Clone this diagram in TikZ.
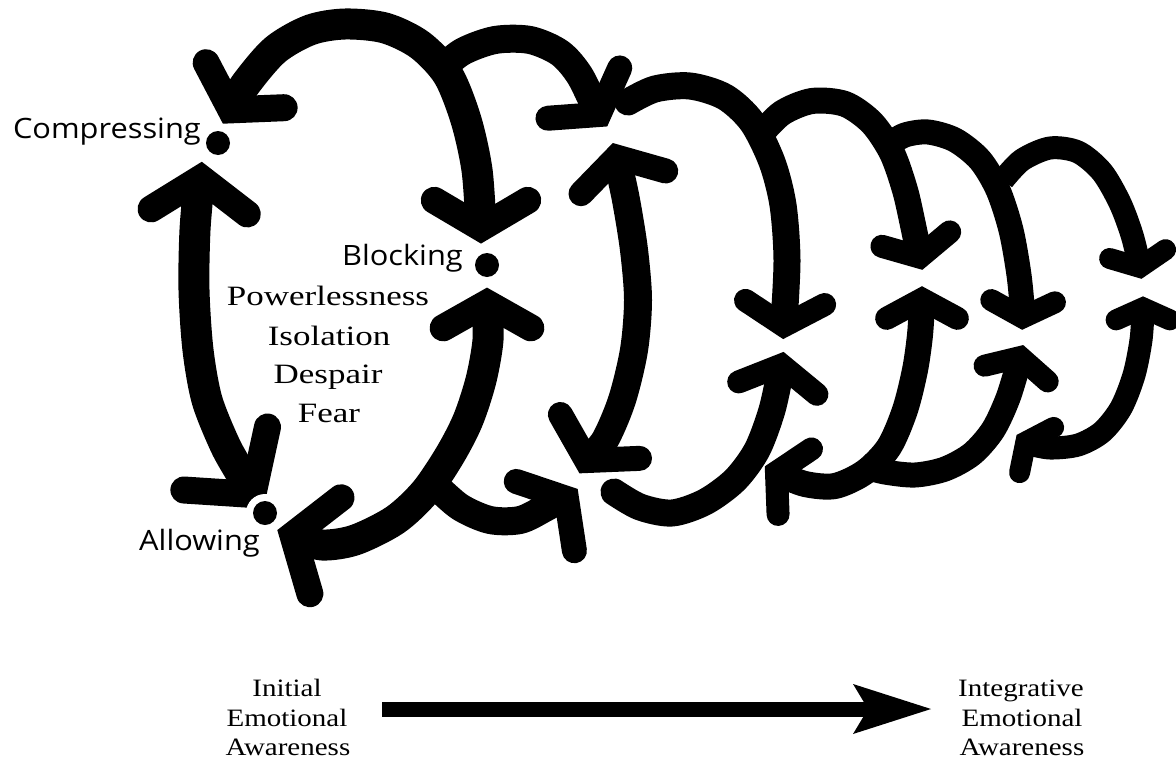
\documentclass[tikz,border=0pt]{standalone}
\usepackage{fontspec}
\usetikzlibrary{calc}
\newfontfamily\labfont[FakeStretch=1.1]{Open Sans}
\newfontfamily\serfont[FakeStretch=1.25]{Liberation Serif}
\newfontfamily\botfont[FakeStretch=1.16]{Liberation Serif}
% arrowhead: tip coordinate, direction (deg, clockwise from right), barb length, barb width, half angle
\newcommand\ahd[5]{\draw[line width=#4pt,line cap=round,line join=miter,miter limit=20]
 ($(#1)+(#2+180-#5:#3)$) -- ($(#1)+(#2+180:{0.5*#4/sin(#5)})$) -- ($(#1)+(#2+180+#5:#3)$);}
\tikzset{
 shaft/.style={line width=#1pt, line cap=butt, line join=round},
 rshaft/.style={line width=#1pt, line cap=round, line join=round},
 lab/.style={font=\labfont\fontsize{28}{28}\selectfont, inner sep=0pt},
 emo/.style={font=\serfont\fontsize{28}{28}\selectfont, inner sep=0pt, anchor=base},
 bot/.style={font=\botfont\fontsize{25}{25}\selectfont, inner sep=0pt, anchor=base},
}
\begin{document}
\begin{tikzpicture}[x=1pt,y=-1pt]
\useasboundingbox (0,0) rectangle (1176,763);
% tips
\coordinate (C1) at (221,127);
\coordinate (B1) at (481,247);
\coordinate (C2) at (202,158);
\coordinate (A1) at (266,512);
\coordinate (B2u) at (487,284);
\coordinate (A2) at (274,529);
\coordinate (B2a) at (580,487);
\coordinate (T2a) at (609,129);
\coordinate (T2b) at (612,140);
\coordinate (B2b) at (578,476);
\coordinate (X1d) at (783,342);
\coordinate (X1u) at (784,349);
\coordinate (X2d) at (923,273);
\coordinate (X2u) at (922,283);
\coordinate (X3d) at (1022,333);
\coordinate (X3u) at (1024,342);
\coordinate (X4d) at (1142,282);
\coordinate (X4u) at (1143,293);
\coordinate (B3) at (762,465);
\coordinate (B4) at (1014,433);

% loop 1
\draw[shaft=31] plot[smooth] coordinates {(231,110) (245,85) (275,50) (310,30) (345,24) (385,28) (420,45) (448,75) (466,120) (477,170) (481,227)};
\draw[shaft=31] plot[smooth] coordinates {(199.5,178) (195,230) (194,290) (198,350) (207,400) (225,445) (240,472) (248,487)};
\draw[shaft=31] plot[smooth] coordinates {(487,304) (488,340) (481,380) (468,420) (450,455) (425,492) (395,520) (355,540) (322,545) (297.8,536.7)};
\ahd{C1}{120}{66}{27}{43}
\ahd{B1}{90}{66}{27}{45}
\ahd{C2}{273}{72}{27}{42}
\ahd{A1}{53}{85}{27}{38}
\ahd{B2u}{270}{62}{27}{45}
\ahd{A2}{198}{74}{27}{43}
% branch to loop 2 bottom
\draw[shaft=28] plot[smooth] coordinates {(435,485) (460,507) (490,520) (520,520) (545,508) (564,497)};
\ahd{B2a}{320}{64}{25}{45}
% branch to loop 2 top
\draw[shaft=28] plot[smooth] coordinates {(438,72) (462,52) (495,40) (530,40) (560,53) (580,76) (597.5,112.6)};
\ahd{T2a}{55}{62}{25}{45}
% loop 2 vertical
\draw[shaft=28] plot[smooth] coordinates {(617.2,159.3) (626,200) (634,250) (638,300) (634,350) (622,400) (605,440) (588,459)};
\ahd{T2b}{255}{62}{25}{45}
\ahd{B2b}{119}{64}{25}{45}
% top arcs
\draw[rshaft=27] plot[smooth] coordinates {(628,102) (655,89) (690,86) (725,97) (752,122) (772,162) (783,205) (787,260) (784,322)};
\ahd{X1d}{93}{56}{23}{45}
\draw[shaft=26] plot[smooth] coordinates {(760,135) (782,113) (812,101) (845,104) (872,123) (892,153) (905,190) (913,225) (918.8,253.4)};
\ahd{X2d}{78}{49}{23}{45}
\draw[shaft=25] plot[smooth] coordinates {(888,145) (905,135) (928,132) (955,140) (980,160) (998,190) (1011,230) (1019,275) (1022.7,313)};
\ahd{X3d}{92}{45}{22}{45}
\draw[shaft=23] plot[smooth] coordinates {(1003,180) (1022,160) (1050,148) (1078,152) (1102,172) (1120,203) (1132,235) (1139.2,264.2)};
\ahd{X4d}{81}{40}{21}{45}
% bottom arcs
\draw[rshaft=27] plot[smooth] coordinates {(614,492) (640,507) (672,513) (705,502) (735,480) (757,450) (772,410) (780.9,368.8)};
\ahd{X1u}{279}{56}{23}{45}
\draw[shaft=26] plot[smooth] coordinates {(779.8,474.1) (805,484) (835,486) (865,472) (889,447) (905,410) (915,370) (920,335) (922,303)};
\ahd{B3}{207}{52}{23}{45}
\ahd{X2u}{270}{50}{23}{45}
\draw[shaft=25] plot[smooth] coordinates {(862,466) (885,472) (915,475) (945,469) (972,454) (993,430) (1008,398) (1019.2,361.4)};
\ahd{X3u}{284}{46}{22}{45}
\draw[shaft=23] plot[smooth] coordinates {(1028.4,443.8) (1050,448) (1078,445) (1102,432) (1121,408) (1134,375) (1141,340) (1143,311)};
\ahd{B4}{217}{40}{21}{45}
\ahd{X4u}{270}{38}{21}{45}

% dots
\coordinate (C) at (218,143);
\coordinate (B) at (487,265);
\coordinate (A) at (265,513);
\foreach \p in {C,B,A} {
  \fill[white] (\p) circle (19pt);
  \fill[black] (\p) circle (12pt);
}

% labels
\node[lab, anchor=base east] (lComp) at (201,138) {Compressing};
\node[lab, anchor=base east] (lBlock) at (463,265) {Blocking};
\node[lab, anchor=base east] (lAllow) at (260,550) {Allowing};
\node[emo] (e1) at (328,305) {Powerlessness};
\node[emo] (e2) at (329,345) {Isolation};
\node[emo] (e3) at (328,383) {Despair};
\node[emo] (e4) at (329,422) {Fear};

% bottom
\node[bot] (i1) at (287,696) {Initial};
\node[bot] (i2) at (287,726) {Emotional};
\node[bot] (i3) at (288,755) {Awareness};
\node[bot] (g1) at (1021,696) {Integrative};
\node[bot] (g2) at (1022,726) {Emotional};
\node[bot] (g3) at (1022,755) {Awareness};
\coordinate (aS) at (382,709);
\coordinate (aT) at (931,709);
\draw[line width=15pt] (aS) -- (868,709);
\fill (853,684) -- (aT) -- (853,734) -- (868,709) -- cycle;
\end{tikzpicture}
\end{document}
